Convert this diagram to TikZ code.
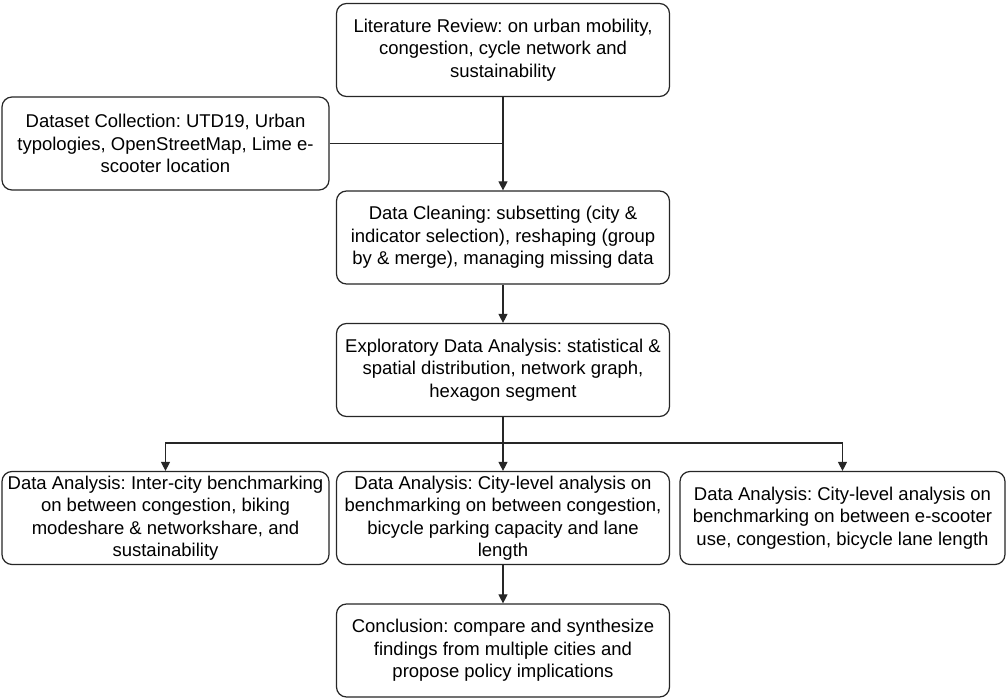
\documentclass[tikz,border=0pt]{standalone}
\usepackage{fontspec}
\setmainfont{Liberation Sans}
\usetikzlibrary{arrows.meta}
\frenchspacing
\begin{document}
\begin{tikzpicture}[x=1pt,y=-1pt,
  box/.style={draw=black!85, line width=1.2pt, rounded corners=10pt, fill=white,
    minimum width=#1, minimum height=93pt, align=center, inner sep=1pt,
    font=\fontsize{18.5}{22.5}\selectfont},
  box/.default=333pt,
  conn/.style={line width=1.1pt, draw=black!85},
  arr/.style={conn, -{Triangle[width=9pt,length=9pt]}}]
\useasboundingbox (0,0) rectangle (1007,698);
\node[box] (lit) at (503,50) {Literature Review: on urban mobility,\\congestion, cycle network and\\sustainability};
\node[box=327pt] (data) at (165.5,143.5) {Dataset Collection: UTD19, Urban\\typologies, OpenStreetMap, Lime e-\\scooter location};
\node[box] (clean) at (503,237.5) {Data Cleaning: subsetting (city \&\\indicator selection), reshaping (group\\by \& merge), managing missing data};
\node[box] (eda) at (503,370) {Exploratory Data Analysis: statistical \&\\spatial distribution, network graph,\\hexagon segment};
\node[box=327pt] (da1) at (165.5,518) {Data Analysis: Inter-city benchmarking\\on between congestion, biking\\modeshare \& networkshare, and\\sustainability};
\node[box] (da2) at (503,518) {Data Analysis: City-level analysis on\\benchmarking on between congestion,\\bicycle parking capacity and lane\\length};
\node[box=325pt] (da3) at (842.5,518) {Data Analysis: City-level analysis on\\benchmarking on between e-scooter\\use, congestion, bicycle lane length};
\node[box] (conc) at (503,650.5) {Conclusion: compare and synthesize\\findings from multiple cities and\\propose policy implications};
\coordinate (j1) at (503,143.5);
\coordinate (j2) at (503,443);
\draw[arr] (lit) -- (clean);
\draw[conn] (data) -- (j1);
\draw[arr] (clean) -- (eda);
\draw[conn] (eda) -- (j2);
\draw[arr] (j2) -| (da1);
\draw[arr] (j2) -- (da2);
\draw[arr] (j2) -| (da3);
\draw[arr] (da2) -- (conc);
\end{tikzpicture}
\end{document}
